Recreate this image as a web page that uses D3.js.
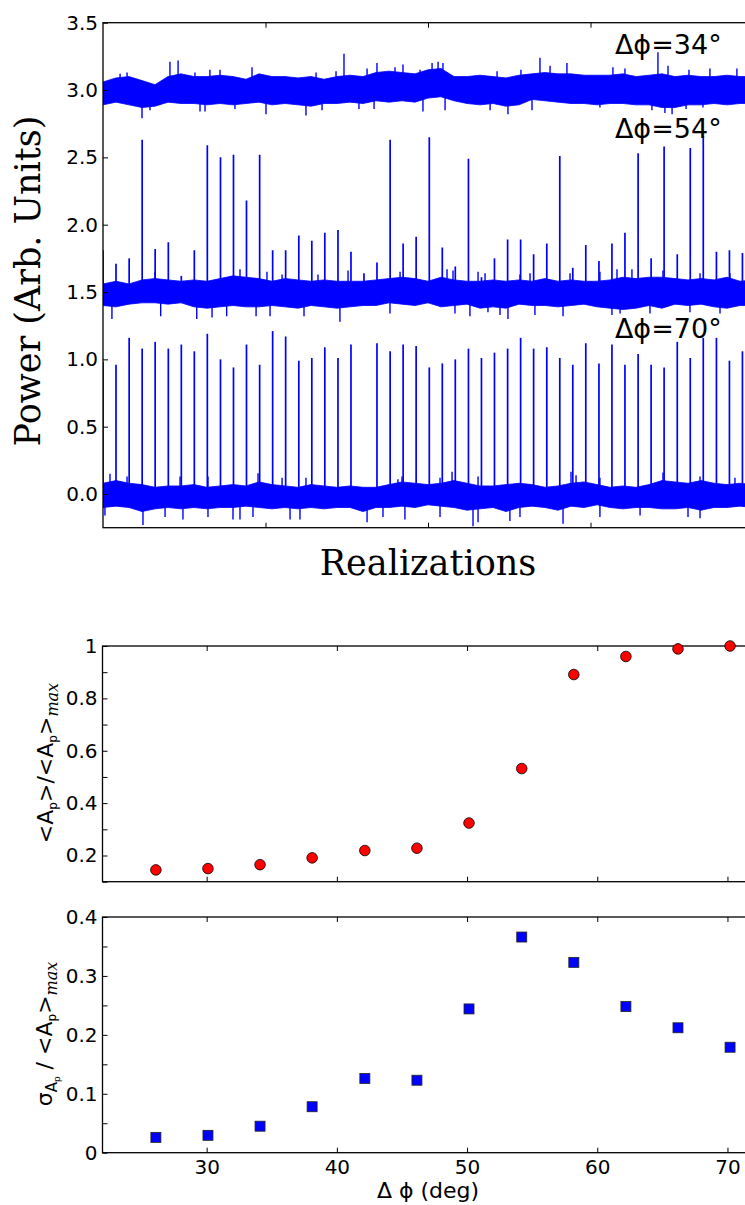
<!DOCTYPE html>
<html>
<head>
<meta charset="utf-8">
<script src="https://cdn.jsdelivr.net/npm/d3@7/dist/d3.min.js"></script>
<style>
  body { margin: 0; background: #fff; }
  svg text { font-family: 'DejaVu Sans', sans-serif; fill: #000; }
</style>
</head>
<body>
<svg id="chart" width="745" height="1205"></svg>
<script>
// ---------- top panel: power traces (realization index) ----------
const spikeX = [0, 80, 161, 241, 321, 402, 482, 562, 642, 723, 803, 883, 964, 1044, 1124, 1205, 1285,
  1365, 1446, 1526, 1606, 1686, 1767, 1847, 1927, 2008, 2088, 2168, 2249, 2329, 2409, 2490, 2570,
  2650, 2731, 2811, 2891, 2971, 3052, 3132, 3212, 3293, 3373, 3453, 3534, 3614, 3694, 3775, 3855, 3935];
// spike peaks for the 54 deg trace (baseline 1.5)
const peaks54 = [1.81, 1.71, 1.75, 2.63, 1.82, 1.87, 1.62, 1.81, 2.59, 2.50, 2.52, 2.18, 2.52, 1.81,
  1.81, 1.92, 1.88, 1.94, 1.96, 1.80, 1.64, 1.72, 2.63, 1.86, 1.91, 2.65, 1.83, 1.69, 2.49, 1.61,
  1.75, 1.89, 1.89, 1.78, 1.86, 2.51, 1.68, 1.85, 1.73, 1.86, 1.94, 2.53, 1.75, 2.58, 1.78, 2.57,
  2.66, 1.80, 1.81, 1.79];
// spike peaks for the 70 deg trace (baseline 0)
const peaks70 = [0.98, 0.96, 1.16, 1.08, 1.13, 1.08, 1.11, 1.06, 1.19, 1.00, 0.94, 1.11, 0.96, 1.21,
  1.17, 0.99, 1.01, 1.09, 1.01, 1.11, null, 1.12, 1.06, 1.11, 1.10, 0.94, 0.97, 1.00, 1.08, 1.01,
  1.05, 1.08, 1.16, 1.08, 1.09, 1.01, 0.96, 1.12, 0.97, 1.11, 0.96, 1.04, 0.96, 0.94, 1.13, 1.01,
  1.16, 1.16, 0.99, 1.06];

// dense core of the noise, sampled along the x axis
const envX = [0, 80, 160, 240, 320, 400, 480, 560, 640, 720, 800, 880, 960, 1040, 1120, 1200, 1280,
  1360, 1440, 1520, 1600, 1680, 1760, 1840, 1920, 2000, 2080, 2160, 2240, 2320, 2400, 2480, 2560,
  2640, 2720, 2800, 2880, 2960, 3040, 3120, 3200, 3280, 3360, 3440, 3520, 3600, 3680, 3760, 3840,
  3920, 4000];
const upper34 = [3.06, 3.09, 3.10, 3.07, 3.04, 3.10, 3.12, 3.10, 3.10, 3.11, 3.10, 3.08, 3.12, 3.10,
  3.10, 3.09, 3.10, 3.08, 3.10, 3.11, 3.10, 3.13, 3.14, 3.13, 3.12, 3.15, 3.16, 3.10, 3.10, 3.11,
  3.10, 3.09, 3.11, 3.12, 3.13, 3.12, 3.12, 3.11, 3.11, 3.11, 3.12, 3.10, 3.11, 3.12, 3.10, 3.11,
  3.10, 3.10, 3.11, 3.10, 3.10];
const lower34 = [2.89, 2.91, 2.89, 2.87, 2.88, 2.91, 2.90, 2.90, 2.89, 2.90, 2.89, 2.90, 2.91, 2.89,
  2.90, 2.89, 2.88, 2.90, 2.90, 2.91, 2.90, 2.92, 2.91, 2.92, 2.91, 2.94, 2.95, 2.92, 2.90, 2.89,
  2.90, 2.88, 2.89, 2.93, 2.92, 2.91, 2.90, 2.90, 2.89, 2.90, 2.90, 2.89, 2.89, 2.87, 2.87, 2.89,
  2.89, 2.90, 2.89, 2.90, 2.90];
const upper54 = [1.56, 1.58, 1.56, 1.59, 1.60, 1.59, 1.58, 1.59, 1.58, 1.60, 1.62, 1.61, 1.60, 1.58,
  1.60, 1.59, 1.58, 1.59, 1.58, 1.58, 1.58, 1.59, 1.60, 1.61, 1.60, 1.58, 1.61, 1.59, 1.58, 1.58,
  1.59, 1.58, 1.59, 1.58, 1.60, 1.58, 1.59, 1.58, 1.58, 1.59, 1.61, 1.60, 1.61, 1.61, 1.60, 1.59,
  1.60, 1.59, 1.61, 1.58, 1.59];
const lower54 = [1.40, 1.39, 1.41, 1.42, 1.42, 1.41, 1.42, 1.39, 1.38, 1.39, 1.40, 1.39, 1.39, 1.40,
  1.39, 1.38, 1.40, 1.39, 1.38, 1.39, 1.40, 1.40, 1.42, 1.41, 1.40, 1.42, 1.39, 1.40, 1.41, 1.38,
  1.39, 1.38, 1.41, 1.40, 1.40, 1.39, 1.40, 1.41, 1.39, 1.38, 1.37, 1.38, 1.40, 1.38, 1.41, 1.40,
  1.41, 1.39, 1.38, 1.40, 1.40];
const upper70 = [0.08, 0.10, 0.08, 0.07, 0.05, 0.06, 0.06, 0.07, 0.05, 0.06, 0.07, 0.06, 0.09, 0.07,
  0.06, 0.05, 0.07, 0.06, 0.05, 0.06, 0.05, 0.05, 0.07, 0.09, 0.08, 0.07, 0.08, 0.10, 0.08, 0.06,
  0.06, 0.07, 0.08, 0.07, 0.05, 0.06, 0.08, 0.09, 0.07, 0.05, 0.06, 0.05, 0.07, 0.10, 0.09, 0.08,
  0.10, 0.08, 0.07, 0.08, 0.07];
const lower70 = [-0.10, -0.09, -0.10, -0.13, -0.11, -0.10, -0.11, -0.10, -0.11, -0.10, -0.10, -0.09,
  -0.10, -0.11, -0.10, -0.11, -0.10, -0.11, -0.10, -0.10, -0.13, -0.10, -0.10, -0.09, -0.10, -0.08,
  -0.09, -0.10, -0.12, -0.11, -0.10, -0.13, -0.10, -0.09, -0.10, -0.12, -0.09, -0.10, -0.08, -0.10,
  -0.11, -0.10, -0.10, -0.11, -0.11, -0.10, -0.12, -0.10, -0.10, -0.09, -0.10];

// single-sample excursions poking out of the noise bands: [x, value]
const outliers34 = [[105, 3.12], [148, 3.13], [412, 3.21], [462, 3.22], [566, 3.13], [658, 3.15],
  [720, 3.15], [917, 3.17], [1311, 3.13], [1434, 3.14], [1483, 3.27], [1625, 3.16], [1686, 3.20],
  [1797, 3.17], [1846, 3.19], [1951, 3.15], [2025, 3.20], [2062, 3.21], [2092, 3.20], [2425, 3.14],
  [2572, 3.15], [2689, 3.24], [2751, 3.18], [2855, 3.20], [3138, 3.17], [3212, 3.16], [3415, 3.28],
  [3477, 3.18], [3606, 3.15], [3735, 3.16], [3901, 3.16],
  [240, 2.79], [289, 2.85], [597, 2.84], [628, 2.84], [812, 2.86], [1003, 2.82], [1249, 2.81],
  [1348, 2.85], [1575, 2.86], [1668, 2.86], [1969, 2.84], [2105, 2.85], [2382, 2.85], [2492, 2.82],
  [2640, 2.85], [3058, 2.87], [3378, 2.85], [3458, 2.83], [3502, 2.82], [3588, 2.86], [3692, 2.87]];
const outliers54 = [[320, 1.65], [843, 1.67], [1009, 1.65], [1102, 1.63], [1323, 1.63], [1508, 1.66],
  [1828, 1.65], [2117, 1.67], [2154, 1.66], [2308, 1.65], [2351, 1.64], [2566, 1.63], [2628, 1.64],
  [2874, 1.64], [3058, 1.65], [3163, 1.67], [3255, 1.67], [3446, 1.66], [3674, 1.64], [3858, 1.64],
  [55, 1.30], [355, 1.32], [577, 1.30], [671, 1.31], [761, 1.32], [942, 1.32], [1028, 1.32],
  [1237, 1.32], [1458, 1.28], [1766, 1.34], [2166, 1.34], [2258, 1.32], [2369, 1.35], [2443, 1.33],
  [2492, 1.30], [2658, 1.33], [2831, 1.32], [3132, 1.33], [3182, 1.34], [3366, 1.34], [3612, 1.35],
  [3797, 1.34]];
const outliers70 = [[43, 0.15], [148, 0.13], [474, 0.13], [646, 0.13], [954, 0.155], [1102, 0.12],
  [1249, 0.12], [1815, 0.11], [1840, 0.13], [2074, 0.12], [2148, 0.165], [2308, 0.13], [2880, 0.165],
  [2911, 0.14], [3058, 0.12], [3446, 0.16], [3674, 0.13], [3889, 0.12],
  [12, -0.16], [246, -0.23], [382, -0.17], [492, -0.19], [646, -0.17], [800, -0.19], [843, -0.19],
  [923, -0.17], [1151, -0.19], [1212, -0.19], [1625, -0.21], [1723, -0.17], [1858, -0.19],
  [2074, -0.17], [2277, -0.24], [2308, -0.21], [2504, -0.20], [2566, -0.17], [2831, -0.22],
  [3058, -0.17], [3305, -0.16], [3600, -0.17], [3674, -0.18]];

const traceLabels = ['Δϕ=34°', 'Δϕ=54°', 'Δϕ=70°'];
const topYTicks = [0, 0.5, 1, 1.5, 2, 2.5, 3, 3.5];
const topXTicks = [1000, 2000, 3000];

// ---------- lower panels: amplitude vs phase difference ----------
const dphi = [26.1, 30.1, 34.1, 38.1, 42.15, 46.15, 50.15, 54.2, 58.2, 62.2, 66.2, 70.2];
const meanAmp = [0.145, 0.150, 0.165, 0.191, 0.219, 0.228, 0.324, 0.532, 0.891, 0.960, 0.989, 1.0];
const sigmaAmp = [0.026, 0.0295, 0.045, 0.078, 0.126, 0.123, 0.244, 0.366, 0.323, 0.248, 0.212, 0.179];
const phiTicks = [30, 40, 50, 60, 70];
const meanTicks = [0.1, 0.2, 0.3, 0.4, 0.5, 0.6, 0.7, 0.8, 0.9, 1.0];
const sigmaTicks = [0, 0.05, 0.1, 0.15, 0.2, 0.25, 0.3, 0.35, 0.4];

const svg = d3.select('#chart');
const blue = '#0000ff';

// inward ticks on every side, no domain path; frame drawn separately
function drawFrame(g, x, y, xTicks, yTicks, xFmt, yFmt) {
  const [x0, x1] = x.range();
  const [y0, y1] = y.range();
  g.append('g').attr('transform', `translate(${x0},0)`)
    .call(d3.axisLeft(y).tickValues(yTicks).tickSize(-5).tickPadding(5).tickFormat(yFmt));
  g.append('g').attr('transform', `translate(${x1},0)`)
    .call(d3.axisRight(y).tickValues(yTicks).tickSize(-5).tickFormat(''));
  g.append('g').attr('transform', `translate(0,${y0})`)
    .call(d3.axisBottom(x).tickValues(xTicks).tickSize(-5).tickPadding(7).tickFormat(xFmt));
  g.append('g').attr('transform', `translate(0,${y1})`)
    .call(d3.axisTop(x).tickValues(xTicks).tickSize(-5).tickFormat(''));
  g.selectAll('.domain').remove();
  g.selectAll('.tick line').attr('stroke', '#000').attr('stroke-width', 1);
  g.selectAll('.tick text').style('font-size', '20px').style('font-family', "'DejaVu Sans', sans-serif");
  g.append('rect')
    .attr('x', x0).attr('y', y1).attr('width', x1 - x0).attr('height', y0 - y1)
    .attr('fill', 'none').attr('stroke', '#000').attr('stroke-width', 1.3);
}

// ---------- top panel ----------
const xTop = d3.scaleLinear().domain([0, 4000]).range([103, 753]);
const yTop = d3.scaleLinear().domain([-0.25, 3.5]).range([527.7, 22.7]);

svg.append('clipPath').attr('id', 'clipTop')
  .append('rect').attr('x', 103).attr('y', 22.7).attr('width', 650).attr('height', 505);

const gTop = svg.append('g');
const plotTop = gTop.append('g').attr('clip-path', 'url(#clipTop)');

const traces = [
  { up: upper34, lo: lower34, base: 3.0, peaks: null, out: outliers34 },
  { up: upper54, lo: lower54, base: 1.5, peaks: peaks54, out: outliers54 },
  { up: upper70, lo: lower70, base: 0.0, peaks: peaks70, out: outliers70 }
];

const band = d3.area()
  .x(d => xTop(d.x))
  .y0(d => yTop(d.lo))
  .y1(d => yTop(d.up));

traces.forEach(t => {
  const pts = envX.map((x, i) => ({ x: x, up: t.up[i], lo: t.lo[i] }));
  plotTop.append('path')
    .datum(pts)
    .attr('d', band)
    .attr('fill', blue)
    .attr('stroke', blue)
    .attr('stroke-width', 0.8);

  plotTop.append('g').selectAll('line')
    .data(t.out)
    .join('line')
    .attr('x1', d => xTop(d[0])).attr('x2', d => xTop(d[0]))
    .attr('y1', yTop(t.base)).attr('y2', d => yTop(d[1]))
    .attr('stroke', blue).attr('stroke-width', 1.4);

  if (t.peaks) {
    const sp = spikeX.map((x, i) => ({ x: x, v: t.peaks[i] })).filter(d => d.v != null);
    plotTop.append('g').selectAll('line')
      .data(sp)
      .join('line')
      .attr('x1', d => xTop(d.x)).attr('x2', d => xTop(d.x))
      .attr('y1', yTop(t.base)).attr('y2', d => yTop(d.v))
      .attr('stroke', blue).attr('stroke-width', 1.7);
  }
});

drawFrame(gTop, xTop, yTop, topXTicks, topYTicks, () => '', d3.format('.1f'));

// trace labels
const labelY = [3.265, 2.645, 1.16];
gTop.selectAll('text.trace')
  .data(traceLabels)
  .join('text')
  .attr('class', 'trace')
  .attr('x', xTop(3150))
  .attr('y', (d, i) => yTop(labelY[i]))
  .style('font-size', '27px')
  .text(d => d);

svg.append('text')
  .attr('transform', 'translate(40,281) rotate(-90)')
  .attr('text-anchor', 'middle')
  .style('font-family', "'DejaVu Serif', serif")
  .style('font-size', '35px')
  .text('Power (Arb. Units)');

svg.append('text')
  .attr('x', 428).attr('y', 575)
  .attr('text-anchor', 'middle')
  .style('font-family', "'DejaVu Serif', serif")
  .style('font-size', '35px')
  .text('Realizations');

// ---------- middle panel ----------
const xPhi = d3.scaleLinear().domain([22, 72]).range([102.5, 753.5]);
const yMean = d3.scaleLinear().domain([0.1, 1]).range([881.7, 646]);
const gMid = svg.append('g');

const fmtMean = v => {
  const k = Math.round(v * 10);
  if (k % 2 !== 0) return '';
  return k === 10 ? '1' : d3.format('.1f')(v);
};
drawFrame(gMid, xPhi, yMean, phiTicks, meanTicks, () => '', fmtMean);

gMid.append('g').selectAll('circle')
  .data(dphi.map((x, i) => ({ x: x, v: meanAmp[i] })))
  .join('circle')
  .attr('cx', d => xPhi(d.x))
  .attr('cy', d => yMean(d.v))
  .attr('r', 5.3)
  .attr('fill', '#ff0000')
  .attr('stroke', '#000')
  .attr('stroke-width', 0.8);

// <A_p>/<A_p>_max
const midLabel = svg.append('text')
  .attr('transform', 'translate(53,763) rotate(-90)')
  .attr('text-anchor', 'middle')
  .style('font-size', '22px');
midLabel.append('tspan').text('<A');
midLabel.append('tspan').attr('dy', 4).style('font-size', '12px').text('p');
midLabel.append('tspan').attr('dy', -4).text('>/<A');
midLabel.append('tspan').attr('dy', 4).style('font-size', '12px').text('p');
midLabel.append('tspan').attr('dy', -4).text('>');
midLabel.append('tspan').attr('dy', 5)
  .style('font-family', "'DejaVu Serif', serif").style('font-style', 'italic').style('font-size', '16px')
  .text('max');

// ---------- bottom panel ----------
const ySigma = d3.scaleLinear().domain([0, 0.4]).range([1152.7, 917]);
const gBot = svg.append('g');

const fmtSigma = v => {
  const k = Math.round(v * 20);
  if (k % 2 !== 0) return '';
  return k === 0 ? '0' : d3.format('.1f')(v);
};
drawFrame(gBot, xPhi, ySigma, phiTicks, sigmaTicks, d3.format('d'), fmtSigma);

gBot.append('g').selectAll('rect.pt')
  .data(dphi.map((x, i) => ({ x: x, v: sigmaAmp[i] })))
  .join('rect')
  .attr('class', 'pt')
  .attr('x', d => xPhi(d.x) - 5)
  .attr('y', d => ySigma(d.v) - 5)
  .attr('width', 10)
  .attr('height', 10)
  .attr('fill', blue)
  .attr('stroke', '#222')
  .attr('stroke-width', 0.8);

// sigma_{A_p} / <A_p>_max
const botLabel = svg.append('text')
  .attr('transform', 'translate(52,1034) rotate(-90)')
  .attr('text-anchor', 'middle')
  .style('font-size', '22px');
botLabel.append('tspan').text('σ');
botLabel.append('tspan').attr('dy', 5).style('font-size', '15px').text('A');
botLabel.append('tspan').attr('dy', 3).style('font-size', '9px').text('p');
botLabel.append('tspan').attr('dy', -8).text(' / <A');
botLabel.append('tspan').attr('dy', 4).style('font-size', '12px').text('p');
botLabel.append('tspan').attr('dy', -4).text('>');
botLabel.append('tspan').attr('dy', 5)
  .style('font-family', "'DejaVu Serif', serif").style('font-style', 'italic').style('font-size', '16px')
  .text('max');

svg.append('text')
  .attr('x', 428).attr('y', 1198)
  .attr('text-anchor', 'middle')
  .style('font-size', '22px')
  .text('Δ ϕ (deg)');
</script>
</body>
</html>
